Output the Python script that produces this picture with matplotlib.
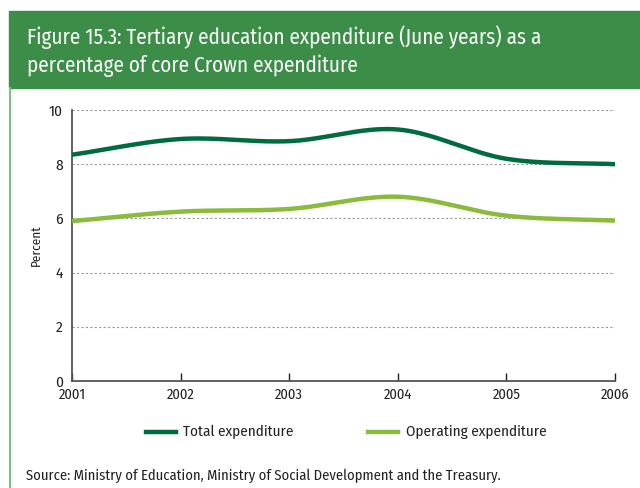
import numpy as np
import matplotlib
matplotlib.use("Agg")
import matplotlib.pyplot as plt
from matplotlib.patches import Rectangle
from matplotlib.lines import Line2D
from matplotlib import font_manager

years = [2001, 2002, 2003, 2004, 2005, 2006]
total_expenditure = [8.35, 8.93, 8.85, 9.28, 8.20, 8.00]
operating_expenditure = [5.90, 6.25, 6.35, 6.80, 6.10, 5.92]

title_lines = ["Figure 15.3: Tertiary education expenditure (June years) as a",
               "percentage of core Crown expenditure"]
source_text = "Source: Ministry of Education, Ministry of Social Development and the Treasury."

DARK = "#006b3f"
LIGHT = "#8cba3c"
HEADER = "#3b8d47"

# pick a condensed sans face if one is available
installed = {f.name for f in font_manager.fontManager.ttflist}
preferred = ["Fira Sans Condensed", "PT Sans Narrow", "Roboto Condensed",
             "Asap Condensed", "Archivo Narrow"]
FONT = [f for f in preferred if f in installed][:1] + ["DejaVu Sans"]
plt.rcParams["font.family"] = FONT


def smooth(x, y, n=40):
    """Catmull-Rom smoothing through the data points (like a smoothed line chart)."""
    x = np.asarray(x, float)
    y = np.asarray(y, float)
    px = np.concatenate([[2 * x[0] - x[1]], x, [2 * x[-1] - x[-2]]])
    py = np.concatenate([[2 * y[0] - y[1]], y, [2 * y[-1] - y[-2]]])
    xs, ys = [], []
    for i in range(1, len(px) - 2):
        t = np.linspace(0, 1, n, endpoint=(i == len(px) - 3))
        for arr, out in ((px, xs), (py, ys)):
            p0, p1, p2, p3 = arr[i - 1], arr[i], arr[i + 1], arr[i + 2]
            out.append(0.5 * ((2 * p1) + (-p0 + p2) * t
                              + (2 * p0 - 5 * p1 + 4 * p2 - p3) * t ** 2
                              + (-p0 + 3 * p1 - 3 * p2 + p3) * t ** 3))
    return np.concatenate(xs), np.concatenate(ys)


W, H = 640, 488
fig = plt.figure(figsize=(W / 100, H / 100), dpi=100)

# header band
fig.patches.append(Rectangle((9 / W, 1 - 88 / H), 1 - 9 / W, 77 / H,
                             transform=fig.transFigure, color=HEADER, zorder=0))
# light border on the left of the panel
fig.add_artist(Line2D([10 / W, 10 / W], [0, 1 - 88 / H], transform=fig.transFigure,
                      color="#7fbf86", lw=1.5))

fig.text(27 / W, 1 - 44 / H, title_lines[0], color="white", fontsize=15.2,
         va="baseline", ha="left")
fig.text(27 / W, 1 - 72 / H, title_lines[1], color="white", fontsize=15.2,
         va="baseline", ha="left")

ax = fig.add_axes([72 / W, 1 - 381 / H, (615 - 72) / W, (381 - 110) / H])
ax.set_xlim(2001, 2006)
ax.set_ylim(0, 10)

for vals, col in ((total_expenditure, DARK), (operating_expenditure, LIGHT)):
    sx, sy = smooth(years, vals)
    ax.plot(sx, sy, color=col, lw=3.2, solid_capstyle="butt", clip_on=False, zorder=3)

ax.set_yticks(range(0, 11, 2))
ax.set_xticks(years)
ax.set_xticklabels([str(y) for y in years])
ax.yaxis.grid(True, linestyle=(0, (2, 2)), color="#999999", lw=0.8)
ax.set_axisbelow(True)
for s in ("top", "right"):
    ax.spines[s].set_visible(False)
for s in ("left", "bottom"):
    ax.spines[s].set_color("#555555")
    ax.spines[s].set_linewidth(1.3)
ax.tick_params(axis="y", length=0, labelsize=11, pad=6.5, colors="#222222")
ax.tick_params(axis="x", length=6, direction="in", width=1.0, labelsize=10.5,
               pad=5, colors="#222222")
ax.set_ylabel("Percent", fontsize=9.5, labelpad=5, color="#222222")

# legend
ly = 1 - 432 / H
fig.add_artist(Line2D([146 / W, 176 / W], [ly, ly], transform=fig.transFigure,
                      color=DARK, lw=3.2))
fig.text(183 / W, ly, "Total expenditure", fontsize=10.9, va="center", color="#222222")
fig.add_artist(Line2D([368 / W, 398 / W], [ly, ly], transform=fig.transFigure,
                      color=LIGHT, lw=3.2))
fig.text(406 / W, ly, "Operating expenditure", fontsize=10.9, va="center", color="#222222")

fig.text(26 / W, 1 - 476 / H, source_text, fontsize=10.5, va="center", color="#222222")

fig.savefig("out.png", dpi=100)
